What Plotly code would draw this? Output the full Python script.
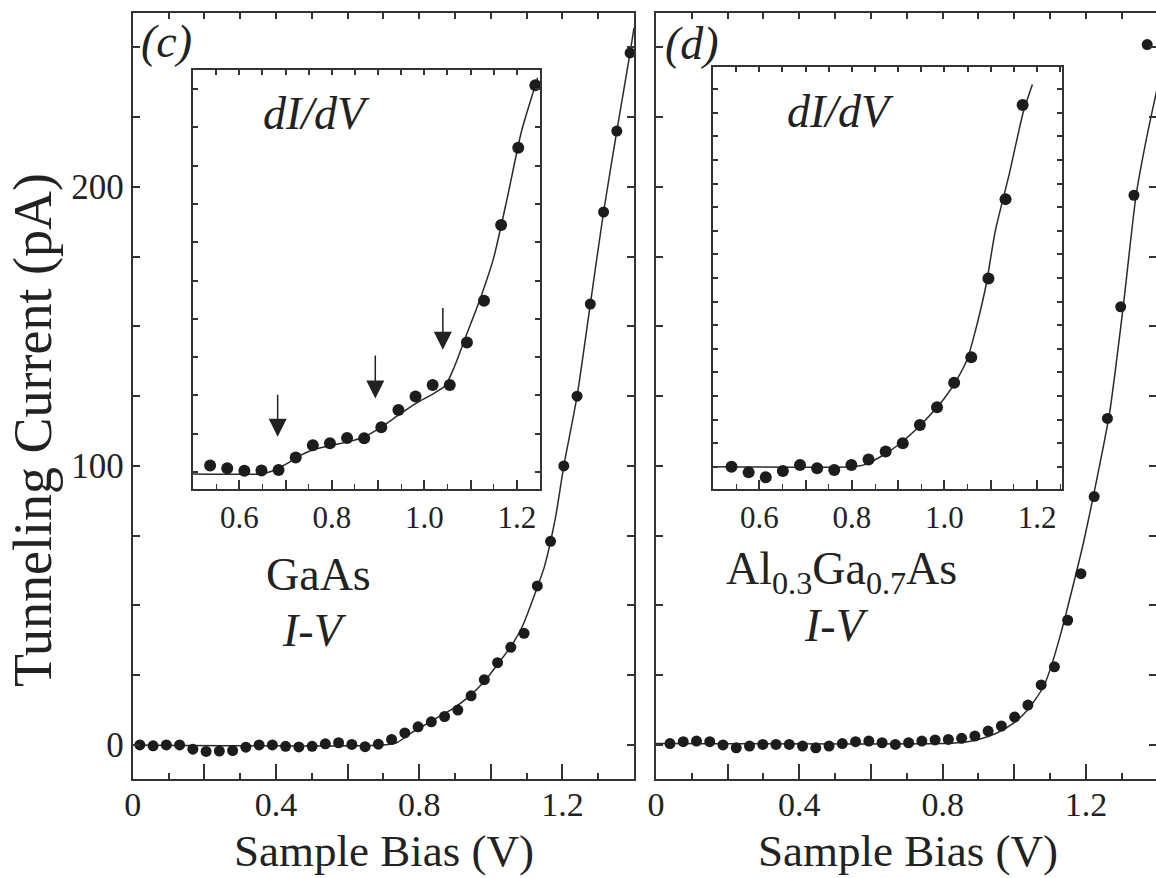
import plotly.graph_objects as go

# ---------------- data ----------------
# (c) GaAs I-V
gaas_iv_v = [0.020, 0.057, 0.094, 0.131, 0.168, 0.205, 0.242, 0.279, 0.316, 0.353,
             0.390, 0.427, 0.464, 0.501, 0.538, 0.575, 0.612, 0.649, 0.686, 0.723,
             0.760, 0.797, 0.834, 0.871, 0.908, 0.945, 0.982, 1.019, 1.056, 1.093,
             1.130, 1.167, 1.204, 1.241, 1.278, 1.315, 1.352, 1.389]
gaas_iv_i = [0.0, -0.3, 0.0, 0.0, -1.5, -2.3, -2.2, -2.0, -0.8, 0.0,
             0.0, -0.5, -0.7, -0.5, 0.4, 0.8, 0.2, -0.6, 0.3, 2.0,
             4.3, 6.5, 8.3, 10.2, 12.5, 17.6, 23.4, 29.5, 35.0, 40.0,
             57.0, 73.0, 100.0, 125.0, 158.0, 191.0, 220.0, 248.0]
gaas_fit_v = [0.0, 0.70, 0.74, 0.78, 0.82, 0.86, 0.90, 0.94, 0.98, 1.02, 1.06,
              1.09, 1.12, 1.15, 1.18, 1.204, 1.241, 1.278, 1.315, 1.352, 1.389, 1.40]
gaas_fit_i = [0.0, 0.0, 1.0, 4.5, 7.5, 10.5, 13.5, 17.5, 22.5, 29.0, 36.0,
              43.0, 53.0, 64.0, 81.0, 100.0, 125.0, 158.0, 191.0, 220.0, 248.0, 257.0]

# (d) Al0.3Ga0.7As I-V
algaas_iv_v = [0.039, 0.076, 0.113, 0.150, 0.187, 0.224, 0.261, 0.298, 0.335, 0.372,
               0.409, 0.446, 0.483, 0.520, 0.557, 0.594, 0.631, 0.668, 0.705, 0.742,
               0.779, 0.816, 0.853, 0.890, 0.927, 0.964, 1.001, 1.038, 1.075, 1.112,
               1.149, 1.186, 1.223, 1.260, 1.297, 1.334, 1.371]
algaas_iv_i = [0.5, 1.2, 1.4, 1.2, 0.0, -1.0, -0.4, 0.2, 0.2, 0.2,
               -0.4, -1.0, -0.4, 0.5, 1.2, 1.4, 0.8, 0.2, 0.8, 1.4,
               1.8, 2.0, 2.4, 3.2, 5.0, 6.8, 10.0, 14.3, 21.5, 28.0,
               44.7, 61.4, 89.0, 117.0, 157.0, 197.0, 251.0]
algaas_fit_v = [0.0, 0.80, 0.85, 0.90, 0.95, 1.00, 1.04, 1.08, 1.10, 1.13, 1.16,
                1.194, 1.23, 1.266, 1.304, 1.34, 1.37, 1.40]
algaas_fit_i = [0.5, 0.5, 0.9, 2.0, 4.2, 8.0, 13.0, 20.5, 27.0, 40.0, 55.0,
                73.0, 95.0, 119.0, 157.0, 197.0, 218.0, 236.0]

# inset (c): GaAs dI/dV (arb. units)
gaas_didv_v = [0.537, 0.574, 0.611, 0.648, 0.685, 0.722, 0.759, 0.796, 0.833, 0.870,
               0.907, 0.944, 0.981, 1.018, 1.055, 1.092, 1.129, 1.166, 1.203, 1.240]
gaas_didv_g = [0.17, 0.10, 0.03, 0.04, 0.05, 0.38, 0.70, 0.75, 0.89, 0.88,
               1.17, 1.62, 1.97, 2.27, 2.27, 3.38, 4.47, 6.45, 8.47, 10.1]
gaas_didv_fit_v = [0.50, 0.645, 0.67, 0.70, 0.73, 0.76, 0.80, 0.84, 0.87, 0.90, 0.94,
                   0.98, 1.02, 1.045, 1.065, 1.09, 1.12, 1.15, 1.18, 1.21, 1.245]
gaas_didv_fit_g = [-0.05, -0.05, 0.02, 0.2, 0.42, 0.58, 0.70, 0.80, 0.92, 1.12, 1.45,
                   1.78, 2.05, 2.25, 2.75, 3.55, 4.5, 5.6, 7.2, 8.9, 10.3]
arrow_v = [0.683, 0.894, 1.040]
arrow_tip = [0.92, 1.92, 3.19]
arrow_tail = [2.06, 3.08, 4.32]

# inset (d): Al0.3Ga0.7As dI/dV (arb. units)
algaas_didv_v = [0.540, 0.577, 0.614, 0.651, 0.688, 0.725, 0.762, 0.799, 0.836, 0.873,
                 0.910, 0.947, 0.984, 1.021, 1.058, 1.095, 1.132, 1.169]
algaas_didv_g = [0.0, -0.24, -0.45, -0.18, 0.07, -0.07, -0.14, 0.07, 0.31, 0.64,
                 0.99, 1.77, 2.52, 3.56, 4.64, 7.98, 11.34, 15.33]
algaas_didv_fit_v = [0.50, 0.80, 0.83, 0.86, 0.90, 0.95, 1.00, 1.03, 1.05, 1.07, 1.09,
                     1.11, 1.14, 1.17, 1.19]
algaas_didv_fit_g = [0.0, 0.0, 0.1, 0.4, 0.92, 1.8, 2.9, 3.8, 4.6, 6.0, 7.7,
                     10.0, 12.4, 15.0, 16.2]

main_xticks = [0.0, 0.2, 0.4, 0.6, 0.8, 1.0, 1.2, 1.4]
main_xlabels = ["0", "", "0.4", "", "0.8", "", "1.2", ""]
main_yticks = [0, 25, 50, 75, 100, 125, 150, 175, 200, 225, 250]
main_ylabels = ["0", "", "", "", "100", "", "", "", "200", "", ""]
inset_xticks = [0.5, 0.6, 0.7, 0.8, 0.9, 1.0, 1.1, 1.2]
inset_xlabels = ["", "0.6", "", "0.8", "", "1.0", "", "1.2"]

# ---------------- styling ----------------
W, H = 1156, 878
FONT = "Liberation Serif"
TXT = "#222222"
FRAME = "#333333"
MARK = "#1c1c1c"
LINE = "#2a2a2a"

def px_x(p):
    return p / W

def px_y(p):
    return (H - p) / H

fig = go.Figure()

def add_fit(x, y, xa, ya):
    fig.add_trace(go.Scatter(x=x, y=y, xaxis=xa, yaxis=ya, mode="lines",
                             line=dict(color=LINE, width=1.5, shape="spline", smoothing=0.6),
                             hoverinfo="skip", showlegend=False, cliponaxis=True))

def add_pts(x, y, xa, ya, size):
    fig.add_trace(go.Scatter(x=x, y=y, xaxis=xa, yaxis=ya, mode="markers",
                             marker=dict(color=MARK, size=size, line=dict(width=0)),
                             hoverinfo="skip", showlegend=False, cliponaxis=False))

add_fit(gaas_fit_v, gaas_fit_i, "x", "y")
add_pts(gaas_iv_v, gaas_iv_i, "x", "y", 11)
add_fit(algaas_fit_v, algaas_fit_i, "x2", "y2")
add_pts(algaas_iv_v, algaas_iv_i, "x2", "y2", 11)
add_fit(gaas_didv_fit_v, gaas_didv_fit_g, "x3", "y3")
add_pts(gaas_didv_v, gaas_didv_g, "x3", "y3", 12)
add_fit(algaas_didv_fit_v, algaas_didv_fit_g, "x4", "y4")
add_pts(algaas_didv_v, algaas_didv_g, "x4", "y4", 12)

# empty traces so that the overlay tick axes are drawn
for xa, ya in [("x5", "y"), ("x6", "y2"), ("x7", "y3"), ("x8", "y4"), ("x2", "y5")]:
    fig.add_trace(go.Scatter(x=[], y=[], xaxis=xa, yaxis=ya, showlegend=False, hoverinfo="skip"))

base = dict(showgrid=False, zeroline=False, showline=True, linecolor=FRAME, linewidth=1.8,
            ticks="inside", tickcolor=FRAME, tickwidth=1.5, automargin=False,
            tickfont=dict(family=FONT, size=35, color=TXT))
overlay = dict(showgrid=False, zeroline=False, showline=False, ticks="inside", automargin=False,
               tickcolor=FRAME, tickwidth=1.5, showticklabels=False)

main_ydom = [px_y(779.3), px_y(13.3)]
main_yrange = [-12.3, 262.2]
left_xdom = [px_x(132.7), px_x(634.0)]
right_xdom = [px_x(656.0), 1.0]
right_xrange = [0, 1.4 * 500.0 / 501.6]
minor_main = dict(tickmode="linear", tick0=0, dtick=0.1, ticklen=6, ticks="inside",
                  tickcolor=FRAME, tickwidth=1.5)
minor_inset = dict(tickmode="linear", tick0=0.5, dtick=0.05, ticklen=5, ticks="inside",
                   tickcolor=FRAME, tickwidth=1.4)
main_xfont = dict(family=FONT, size=34, color=TXT)

inset_ydom = [px_y(489), px_y(70)]
inset2_ydom = [px_y(489), px_y(67)]

fig.update_layout(
    width=W, height=H, margin=dict(l=0, r=0, t=0, b=0, pad=0, autoexpand=False),
    paper_bgcolor="white", plot_bgcolor="white", showlegend=False,
    font=dict(family=FONT, color=TXT),
    xaxis=dict(base, domain=left_xdom, range=[0, 1.4], anchor="y", mirror=True,
               tickmode="array", tickvals=main_xticks, ticktext=main_xlabels, ticklen=15,
               minor=minor_main, tickfont=main_xfont, ticklabelstandoff=-6),
    yaxis=dict(base, domain=main_ydom, range=main_yrange, anchor="x", mirror="ticks",
               tickmode="array", tickvals=main_yticks, ticktext=main_ylabels, ticklen=7),
    xaxis2=dict(base, domain=right_xdom, range=right_xrange, anchor="y2", mirror=True,
                tickmode="array", tickvals=main_xticks, ticktext=main_xlabels, ticklen=15,
                minor=minor_main, tickfont=main_xfont, ticklabelstandoff=-6),
    yaxis2=dict(base, domain=main_ydom, range=main_yrange, anchor="x2", mirror=False,
                tickmode="array", tickvals=main_yticks, ticklen=7, showticklabels=False),
    yaxis5=dict(overlay, overlaying="y2", side="right", anchor="x2", range=main_yrange,
                tickmode="array", tickvals=main_yticks, ticklen=7),
    xaxis5=dict(overlay, overlaying="x", side="top", anchor="y", range=[0, 1.4],
                tickmode="linear", tick0=0, dtick=0.1, ticklen=6),
    xaxis6=dict(overlay, overlaying="x2", side="top", anchor="y2", range=right_xrange,
                tickmode="linear", tick0=0, dtick=0.1, ticklen=6),
    xaxis3=dict(base, domain=[px_x(193), px_x(540)], range=[0.5, 1.25], anchor="y3",
                mirror=True, tickmode="array", tickvals=inset_xticks, ticktext=inset_xlabels,
                ticklen=9, minor=minor_inset,
                tickfont=dict(family=FONT, size=31, color=TXT)),
    yaxis3=dict(base, domain=inset_ydom, range=[-0.444, 10.5], anchor="x3", mirror="ticks",
                tickmode="linear", tick0=0, dtick=1, ticklen=5, showticklabels=False),
    xaxis7=dict(overlay, overlaying="x3", side="top", anchor="y3", range=[0.5, 1.25],
                tickmode="linear", tick0=0.5, dtick=0.05, ticklen=5),
    xaxis4=dict(base, domain=[px_x(713), px_x(1062)], range=[0.5, 1.254], anchor="y4",
                mirror=True, tickmode="array", tickvals=inset_xticks, ticktext=inset_xlabels,
                ticklen=9, minor=minor_inset,
                tickfont=dict(family=FONT, size=31, color=TXT)),
    yaxis4=dict(base, domain=inset2_ydom, range=[-0.945, 16.94], anchor="x4", mirror="ticks",
                tickmode="linear", tick0=0, dtick=1, ticklen=5, showticklabels=False),
    xaxis8=dict(overlay, overlaying="x4", side="top", anchor="y4", range=[0.5, 1.254],
                tickmode="linear", tick0=0.5, dtick=0.05, ticklen=5),
)

def label(text, x, y, size, angle=0):
    fig.add_annotation(text=text, x=px_x(x), y=px_y(y), xref="paper", yref="paper",
                       showarrow=False, xanchor="center", yanchor="middle", textangle=angle,
                       font=dict(family=FONT, size=size, color=TXT))

label("<i>(c)</i>", 166, 41, 46)
label("<i>(d)</i>", 692, 43, 46)
label("<i>dI/dV</i>", 316, 113, 46)
label("<i>dI/dV</i>", 840, 111, 46)
label("GaAs", 318, 574, 46)
label("<i>I-V</i>", 314, 630, 46)
label("Al<sub>0.3</sub>Ga<sub>0.7</sub>As", 841, 572, 46)
label("<i>I-V</i>", 836, 625, 46)
label("Sample Bias (V)", 384, 851, 45)
label("Sample Bias (V)", 908, 851, 45)
label("Tunneling Current (pA)", 33, 430, 54, angle=-90)

for v, tip, tail in zip(arrow_v, arrow_tip, arrow_tail):
    fig.add_annotation(x=v, y=tip, ax=v, ay=tail, xref="x3", yref="y3", axref="x3", ayref="y3",
                       text="", showarrow=True, arrowhead=2, arrowsize=2.4, arrowwidth=1.5,
                       arrowcolor="#222222", standoff=0, startstandoff=0)

fig.write_html("out.html", config={"displayModeBar": False},
               post_script="document.body.style.margin='0';document.body.style.overflow='hidden';")
